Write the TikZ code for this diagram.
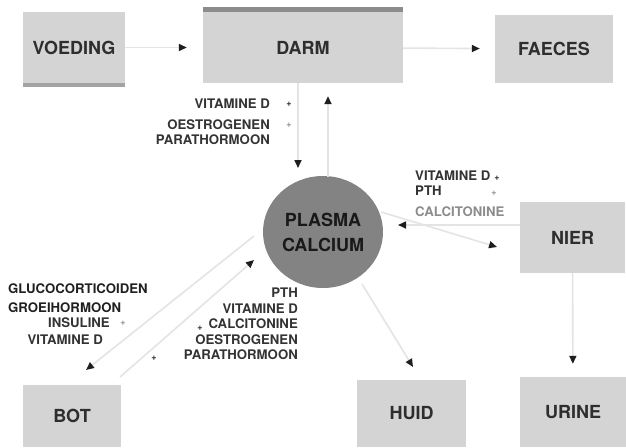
\documentclass[tikz,border=0pt]{standalone}
\usepackage{fontspec}
\setmainfont{TeX Gyre Heros}
\usetikzlibrary{arrows.meta,shapes.geometric}
\definecolor{boxgrey}{HTML}{D4D4D4}
\definecolor{stripgrey}{HTML}{8C8C8C}
\definecolor{circgrey}{HTML}{838383}
\definecolor{linegrey}{HTML}{E4E4E4}
\definecolor{tipdark}{HTML}{1E1E1E}
\definecolor{txtdark}{HTML}{2E2E2E}
\tikzset{
  box/.style={fill=boxgrey, draw=none, inner sep=0pt, text=txtdark,
    font=\bfseries\fontsize{18}{20}\selectfont},
  plasmastyle/.style={ellipse, fill=circgrey, draw=none, inner sep=0pt,
    minimum width=120pt, minimum height=112pt, align=center, text=black!90,
    font=\bfseries\fontsize{18}{25}\selectfont},
  lab/.style={inner sep=0pt, text=black!80, font=\bfseries\fontsize{13.2}{15}\selectfont},
  sign/.style={inner sep=0pt, text=black!85, font=\bfseries\fontsize{9}{10}\selectfont},
  conn/.style={draw=linegrey, line width=1.6pt,
    -{Triangle[length=8pt,width=7pt,color=tipdark]}},
}
\begin{document}
\begin{tikzpicture}[x=1pt,y=-1pt]
\useasboundingbox[fill=white] (0,0) rectangle (626,447);

% boxes
\node[box, minimum width=102pt, minimum height=71pt] (voeding) at (74,47.5) {VOEDING};
\node[box, minimum width=200pt, minimum height=71pt] (darm) at (303,47.5) {DARM};
\node[box, minimum width=118pt, minimum height=68pt] (faeces) at (554,49) {FAECES};
\node[box, minimum width=105pt, minimum height=71pt] (nier) at (572.5,237.5) {NIER};
\node[box, minimum width=106pt, minimum height=70pt] (urine) at (573,412) {URINE};
\node[box, minimum width=98pt, minimum height=62pt] (bot) at (72,416) {BOT};
\node[box, minimum width=109pt, minimum height=67pt] (huid) at (411.5,413.5) {HUID};
\fill[stripgrey] (darm.north west) rectangle ([yshift=5pt]darm.north east);
\fill[stripgrey!80] ([yshift=-4pt]voeding.south west) rectangle (voeding.south east);

% plasma calcium
\node[plasmastyle] (plasma) at (323,232) {PLASMA\\CALCIUM};

% connector end points
\coordinate (pL) at (298,168);
\coordinate (pR) at (328,177);
\coordinate (nIn) at (398,225);
\coordinate (nOut) at (381,212);
\coordinate (nTip) at (497,247);
\coordinate (bA) at (254,236);
\coordinate (bAtip) at (86,370);
\coordinate (bB) at (120,377);
\coordinate (bBtip) at (254,260);
\coordinate (hS) at (362,284);
\coordinate (hTip) at (413,367);

% connectors
\draw[conn, shorten >=16pt] (voeding) -- (darm);
\draw[conn, shorten >=15pt] (darm) -- (faeces);
\draw[conn] (darm.south -| pL) -- (pL);
\draw[conn, shorten >=13pt] (pR) -- (pR |- darm.south);
\draw[conn] (nier.west |- nIn) -- (nIn);
\draw[conn] (nOut) -- (nTip);
\draw[conn] (bA) -- (bAtip);
\draw[conn] (bB) -- (bBtip);
\draw[conn] (hS) -- (hTip);
\draw[conn, shorten >=13pt] (nier) -- (urine);

% labels darm -> plasma
\node[lab, anchor=east] (d1) at (270,104) {VITAMINE D};
\node[lab, anchor=east] (d2) at (270,125) {OESTROGENEN};
\node[lab, anchor=east] (d3) at (270,140) {PARATHORMOON};
\node[sign] (s1) at (289,104) {+};
\node[sign, text=black!45] (s2) at (289,125) {+};

% labels plasma <-> nier
\node[lab, anchor=west] (n1) at (415,176) {VITAMINE D};
\node[lab, anchor=west] (n2) at (415,191) {PTH};
\node[lab, anchor=west, text=black!45] (n3) at (415,212) {CALCITONINE};
\node[sign] (s3) at (497,178) {+};
\node[sign, text=black!45] (s4) at (494,193) {+};

% labels bot, left
\node[lab, anchor=west, text=black!88] (g1) at (8,289) {GLUCOCORTICOIDEN};
\node[lab, anchor=west, text=black!88] (g2) at (8,307.5) {GROEIHORMOON};
\node[lab, anchor=east] (g3) at (110,323) {INSULINE};
\node[lab, anchor=east] (g4) at (103,340) {VITAMINE D};
\node[sign, text=black!45] (s5) at (123,323) {+};

% labels bot, right
\node[lab, anchor=east] (r1) at (298,293) {PTH};
\node[lab, anchor=east] (r2) at (298,309) {VITAMINE D};
\node[lab, anchor=east] (r3) at (298,324) {CALCITONINE};
\node[lab, anchor=east] (r4) at (298,340) {OESTROGENEN};
\node[lab, anchor=east] (r5) at (298,355) {PARATHORMOON};
\node[sign] (s6) at (200,328) {+};
\node[sign] (s7) at (154,358) {+};
\end{tikzpicture}
\end{document}
